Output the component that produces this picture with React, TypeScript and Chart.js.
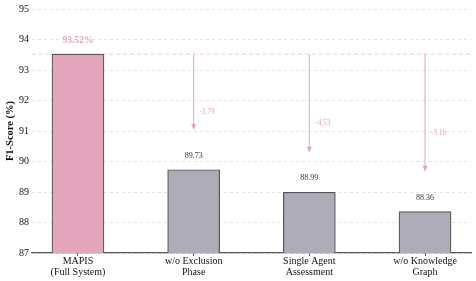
import React, { useEffect, useRef } from "react";
import { Chart, registerables } from "chart.js";

Chart.register(...registerables);

const categories: string[][] = [
  ["MAPIS", "(Full System)"],
  ["w/o Exclusion", "Phase"],
  ["Single Agent", "Assessment"],
  ["w/o Knowledge", "Graph"],
];
const scores: number[] = [93.52, 89.73, 88.99, 88.36];
const diffs: string[] = ["", "-3.79", "-4.53", "-5.16"];
const barColors: string[] = ["#e3a6bd", "#aeacb9", "#aeacb9", "#aeacb9"];
const yTicks: number[] = [87, 88, 89, 90, 91, 92, 93, 94, 95];

const SERIF = "'Liberation Serif', 'DejaVu Serif', serif";
const PINK = "#e8a3bb";

const annotatePlugin = {
  id: "annotate",
  beforeDatasetsDraw(chart: any) {
    const { ctx, chartArea, scales } = chart;
    const y = scales.y.getPixelForValue(scores[0]);
    ctx.save();
    ctx.strokeStyle = "rgba(232,163,187,0.55)";
    ctx.lineWidth = 1;
    ctx.setLineDash([4, 3]);
    ctx.beginPath();
    ctx.moveTo(chartArea.left, y);
    ctx.lineTo(chartArea.right, y);
    ctx.stroke();
    ctx.restore();
  },
  afterDatasetsDraw(chart: any) {
    const { ctx, scales } = chart;
    const xs = scales.x;
    const ys = scales.y;
    ctx.save();
    scores.forEach((v, i) => {
      const x = xs.getPixelForValue(i);
      const y = ys.getPixelForValue(v);
      ctx.textAlign = "center";
      ctx.textBaseline = "middle";
      if (i === 0) {
        ctx.fillStyle = PINK;
        ctx.font = `bold 9.5px ${SERIF}`;
        ctx.fillText(v.toFixed(2) + "%", x, y - 14);
      } else {
        ctx.fillStyle = "#333333";
        ctx.font = `8px ${SERIF}`;
        ctx.fillText(v.toFixed(2), x, y - 14);
      }
    });
    for (let i = 1; i < scores.length; i++) {
      const x = xs.getPixelForValue(i);
      const y0 = ys.getPixelForValue(scores[0]);
      const y1 = ys.getPixelForValue(scores[i] + 1.3);
      ctx.strokeStyle = PINK;
      ctx.fillStyle = PINK;
      ctx.lineWidth = 1;
      ctx.setLineDash([]);
      ctx.beginPath();
      ctx.moveTo(x, y0);
      ctx.lineTo(x, y1 - 4);
      ctx.stroke();
      ctx.beginPath();
      ctx.moveTo(x, y1);
      ctx.lineTo(x - 2.5, y1 - 6);
      ctx.lineTo(x + 2.5, y1 - 6);
      ctx.closePath();
      ctx.fill();
      const ym = ys.getPixelForValue((scores[0] + scores[i]) / 2);
      ctx.font = `7.2px ${SERIF}`;
      ctx.textAlign = "left";
      ctx.textBaseline = "middle";
      ctx.fillText(diffs[i], x + 6, ym);
    }
    ctx.restore();
  },
};

export default function App() {
  const ref = useRef<HTMLCanvasElement>(null);
  useEffect(() => {
    if (!ref.current) return;
    const chart = new Chart(ref.current, {
      type: "bar",
      data: {
        datasets: [
          {
            data: scores.map((v, i) => ({ x: i, y: v })),
            backgroundColor: barColors,
            borderColor: "#555555",
            borderWidth: 1.2,
            borderSkipped: false,
            barThickness: 52,
          },
        ],
      },
      options: {
        animation: false,
        responsive: false,
        maintainAspectRatio: false,
        layout: { padding: { top: 8, right: 5, bottom: 0, left: 0 } },
        plugins: { legend: { display: false }, tooltip: { enabled: false } },
        scales: {
          x: {
            type: "linear",
            min: -0.3975,
            max: 3.3975,
            offset: false,
            bounds: "ticks",
            afterBuildTicks: (scale: any) => {
              scale.ticks = categories.map((_, i) => ({ value: i }));
            },
            afterFit: (scale: any) => {
              scale.height = 28;
            },
            ticks: {
              autoSkip: false,
              maxRotation: 0,
              padding: 0,
              color: "#111111",
              font: { family: SERIF, size: 10, lineHeight: 1.1 },
              callback: (v: any) => categories[Number(v)] ?? "",
            },
            grid: {
              display: true,
              offset: false,
              drawOnChartArea: false,
              drawTicks: true,
              tickLength: 3,
              color: "#555555",
            },
            border: { display: true, color: "#555555", width: 1.3 },
          },
          y: {
            min: 87,
            max: 95,
            afterBuildTicks: (scale: any) => {
              scale.ticks = yTicks.map((v) => ({ value: v }));
            },
            afterFit: (scale: any) => {
              scale.width = 32;
            },
            ticks: {
              padding: 3,
              color: "#111111",
              font: { family: SERIF, size: 10 },
            },
            grid: { color: "#dddddd", lineWidth: 0.8, drawTicks: false },
            border: { display: false, dash: [3, 3] },
            title: {
              display: true,
              text: "F1-Score (%)",
              color: "#111111",
              font: { family: SERIF, size: 10.5, weight: "bold" },
              padding: { top: 4, bottom: 0 },
            },
          },
        },
      },
      plugins: [annotatePlugin],
    } as any);
    return () => chart.destroy();
  }, []);
  return (
    <div style={{ position: "fixed", left: 0, top: 0, width: 476, height: 281, background: "#ffffff" }}>
      <canvas ref={ref} width={476} height={281} style={{ display: "block", width: 476, height: 281 }} />
    </div>
  );
}
